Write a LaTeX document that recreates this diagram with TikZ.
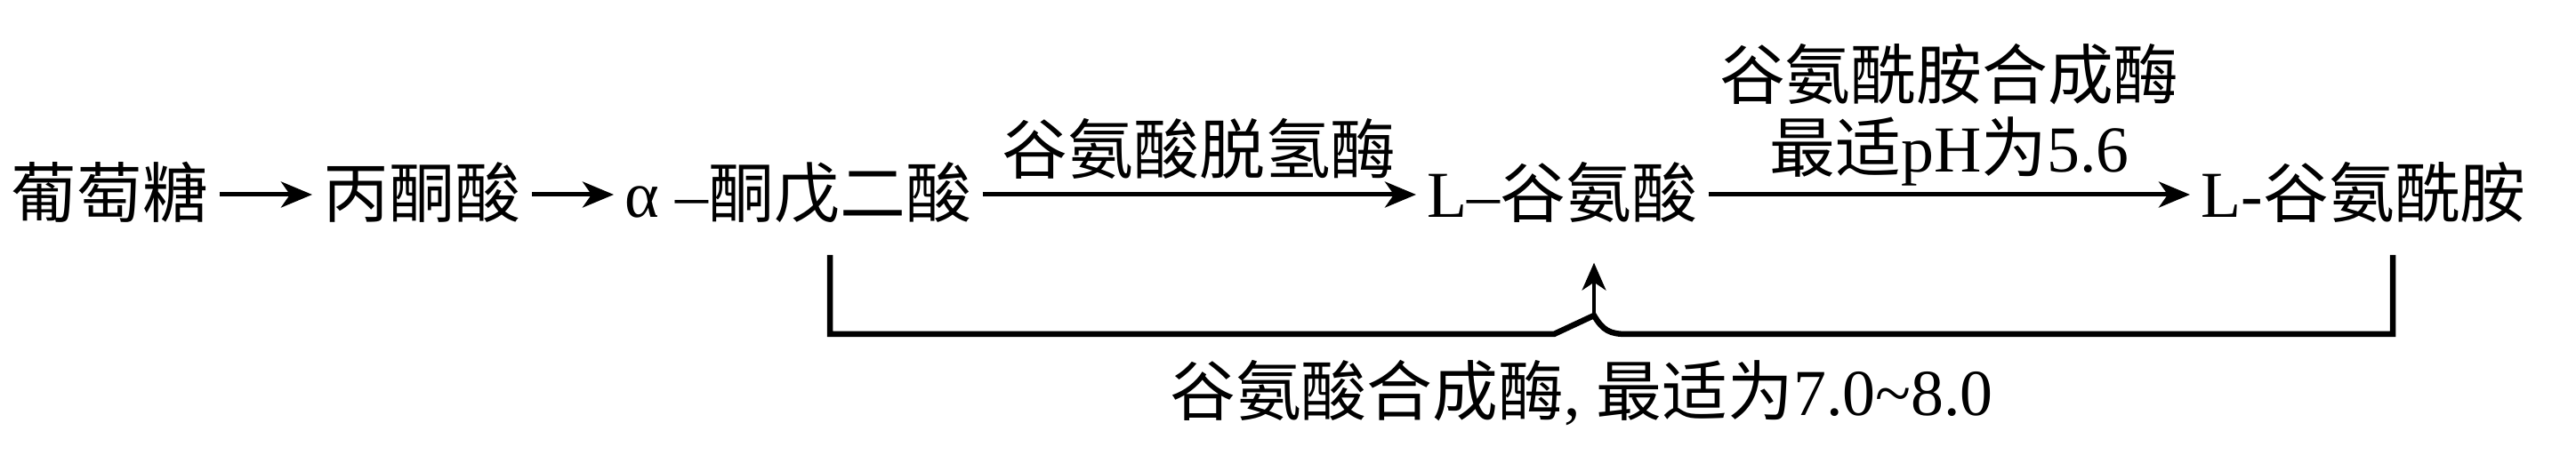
\documentclass[tikz,border=0pt]{standalone}
\usepackage{fontspec}
\setmainfont{Liberation Serif}
\newfontfamily\zh{Noto Sans CJK SC}
\usetikzlibrary{arrows.meta}
\def\fs{\fontsize{21pt}{23.3pt}\selectfont}
\tikzset{
	chem/.style={inner xsep=0.12cm, inner ysep=0pt, text height=0.62cm, text depth=0.1cm, font=\fs, anchor=west},
	enz/.style={inner sep=0.05cm, font=\fs, align=center},
	rxn/.style={line width=0.5mm, -{Stealth[length=0.35cm, width=0.29cm, inset=0.1cm]}},
	brace/.style={line width=0.65mm, line join=miter},
	up/.style={line width=0.33mm, -{Stealth[length=0.31cm, width=0.27cm, inset=0.09cm]}}
}

\begin{document}
\begin{tikzpicture}
		%%%%% START %%%%%
		\useasboundingbox (0, 0) rectangle (28.96, 5.12);
		
		\node[chem] (glc) at (0.0, 2.93) {\zh 葡萄糖};
		\node[chem] (pyr) at (3.51, 2.93) {\zh 丙酮酸};
		\node[chem] (akg) at (6.90, 2.93) {α –{\zh 酮戊二酸}};
		\node[chem] (glu) at (15.92, 2.93) {L–{\zh 谷氨酸}};
		\node[chem] (gln) at (24.62, 2.93) {L-{\zh 谷氨酰胺}};
		
		\draw[rxn] (glc) -- (pyr);
		\draw[rxn] (pyr) -- (akg);
		\draw[rxn] (akg) -- node[enz, above=0.1cm] {\zh 谷氨酸脱氢酶} (glu);
		\draw[rxn] (glu) -- node[enz, above=0.02cm] {{\zh 谷氨酰胺合成酶}\\{\zh 最适}pH{\zh 为}5.6} (gln);
		
		% bracket under the chain
		\coordinate (bl) at (9.33, 2.25);
		\coordinate (br) at (26.90, 2.25);
		\coordinate (peak) at (17.92, 1.57);
		\draw[brace] (bl) -- (9.33, 1.36) -- (17.47, 1.36) -- (peak)
			.. controls (18.02, 1.40) and (18.10, 1.36) .. (18.29, 1.36) -- (26.90, 1.36) -- (br);
		\draw[up, shorten >=0.4cm] (peak) -- (peak |- glu.south);
		
		\node[enz] (gs) at (17.78, 0.70) {{\zh 谷氨酸合成酶}, {\zh 最适为}7.0\textasciitilde 8.0};
		
		%%%%% END %%%%%
	\end{tikzpicture}
\end{document}
